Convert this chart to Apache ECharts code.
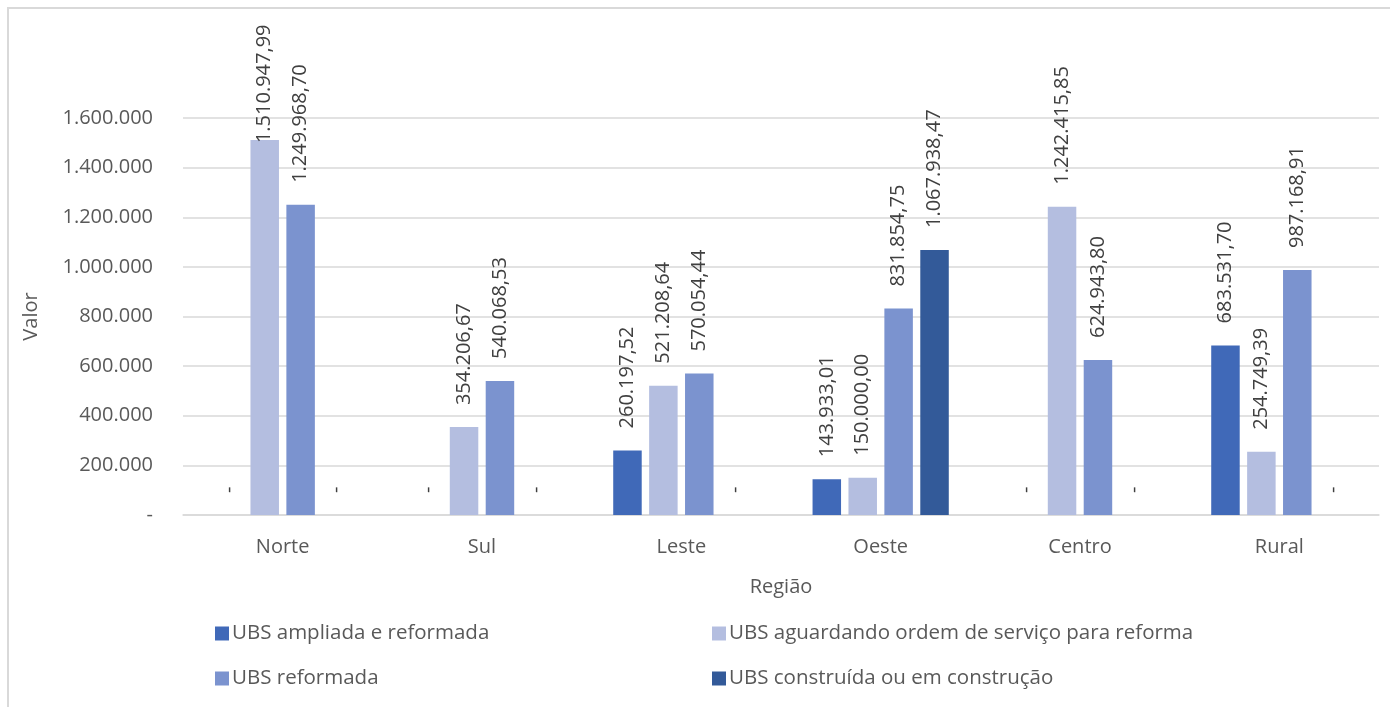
<!DOCTYPE html>
<html>
<head>
<meta charset="utf-8">
<script src="https://cdn.jsdelivr.net/npm/echarts@6/dist/echarts.min.js"></script>
<style>html,body{margin:0;padding:0;background:#fff}#c{width:1390px;height:707px}</style>
</head>
<body>
<div id="c"></div>
<script>
const categories = ['Norte', 'Sul', 'Leste', 'Oeste', 'Centro', 'Rural'];
const seriesNames = ['UBS ampliada e reformada', 'UBS aguardando ordem de serviço para reforma', 'UBS reformada', 'UBS construída ou em construção'];
const ampliada = [0, 0, 260197.52, 143933.01, 0, 683531.70];
const aguardando = [1510947.99, 354206.67, 521208.64, 150000.00, 1242415.85, 254749.39];
const reformada = [1249968.70, 540068.53, 570054.44, 831854.75, 624943.80, 987168.91];
const construida = [0, 0, 0, 1067938.47, 0, 0];
const yTicks = [0, 200000, 400000, 600000, 800000, 1000000, 1200000, 1400000, 1600000];

const colors = ['#4069b8', '#b4bee0', '#7b93cf', '#335a99'];
const FONT = 'Open Sans';
const valuesList = [ampliada, aguardando, reformada, construida];

function fmtNum(v, dec) {
  const s = v.toFixed(dec);
  let [i, d] = s.split('.');
  i = i.replace(/\B(?=(\d{3})+(?!\d))/g, '.');
  return d ? i + ',' + d : i;
}

const chart = echarts.init(document.getElementById('c'));
const yMax = yTicks[yTicks.length - 1];

const series = valuesList.map((vals, si) => ({
  name: seriesNames[si],
  type: 'bar',
  barWidth: 28.5,
  barGap: '26%',
  itemStyle: { color: colors[si] },
  data: vals.map(v => {
    const item = { value: v };
    if (v > yMax * 0.92) item.label = { distance: -3 };
    return item;
  }),
  label: {
    show: true,
    position: 'top',
    rotate: 90,
    align: 'left',
    verticalAlign: 'middle',
    distance: 22,
    fontFamily: FONT,
    fontSize: 20,
    color: '#404040',
    formatter: p => p.value === 0 ? '-' : fmtNum(p.value, 2)
  }
}));

const legendPos = [[210, 618], [707, 618], [210, 663], [707, 663]];
const legends = seriesNames.map((n, i) => ({
  data: [n],
  left: legendPos[i][0],
  top: legendPos[i][1],
  icon: 'rect',
  itemWidth: 14,
  itemHeight: 14,
  itemGap: 0,
  selectedMode: false,
  textStyle: { fontFamily: FONT, fontSize: 20.5, color: '#595959', padding: [0, 0, 0, -2] }
}));

chart.setOption({
  animation: false,
  color: colors,
  grid: { left: 183, right: 11, top: 118, bottom: 192 },
  legend: legends,
  graphic: [{
    type: 'rect',
    shape: { x: 8, y: 8, width: 1400, height: 720 },
    style: { fill: 'none', stroke: '#d9d9d9', lineWidth: 2 },
    silent: true
  }],
  xAxis: {
    type: 'category',
    data: categories,
    name: 'Região',
    nameLocation: 'middle',
    nameGap: 62,
    nameTextStyle: { fontFamily: FONT, fontSize: 20, color: '#595959' },
    axisLine: { lineStyle: { color: '#d9d9d9', width: 1.5 } },
    axisTick: { show: false },
    axisLabel: { fontFamily: FONT, fontSize: 20, color: '#595959', margin: 22 }
  },
  yAxis: {
    type: 'value',
    min: 0,
    max: yMax,
    interval: yTicks[1] - yTicks[0],
    name: 'Valor',
    nameLocation: 'middle',
    nameGap: 142,
    nameRotate: 90,
    nameTextStyle: { fontFamily: FONT, fontSize: 20, color: '#595959' },
    axisLine: { show: false },
    axisTick: { show: false },
    splitLine: { lineStyle: { color: '#d9d9d9', width: 1.5 } },
    axisLabel: {
      fontFamily: FONT, fontSize: 20, color: '#595959', margin: 30,
      formatter: v => v === 0 ? '-' : fmtNum(v, 0)
    }
  },
  series: series
});
</script>
</body>
</html>
